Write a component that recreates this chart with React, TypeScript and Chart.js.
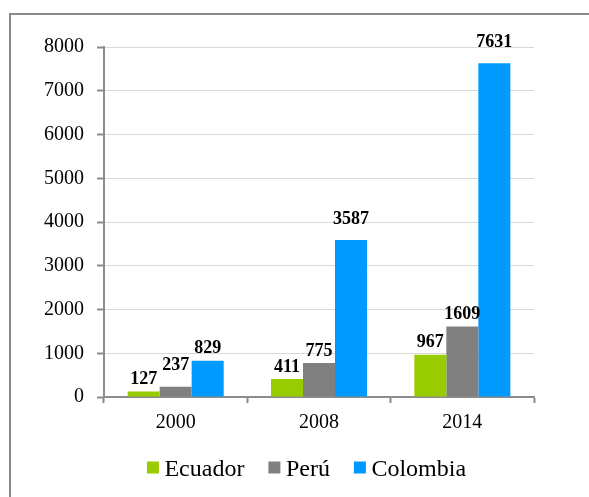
import { useEffect, useRef } from "react";
import { Chart, registerables } from "chart.js";

Chart.register(...registerables);

// Data
const years = ["2000", "2008", "2014"];
const ecuador = [127, 411, 967];
const peru = [237, 775, 1609];
const colombia = [829, 3587, 7631];
const seriesNames = ["Ecuador", "Perú", "Colombia"];
const seriesColors = ["#99CC00", "#808080", "#0099FF"];
const yMax = 8000;
const yStep = 1000;

// Extra lift (px) for a few value labels that sit higher above their bars
const labelLift = [
  [0, 0, 0],
  [9.5, 0, 0],
  [0, 8.5, 9],
];

const SERIF = "'Liberation Serif', 'Times New Roman', serif";
const AXIS_GRAY = "#8c8c8c";

const framePlugin = {
  id: "frame",
  beforeDraw(chart: any) {
    const { ctx, width, height } = chart;
    ctx.save();
    ctx.strokeStyle = "#8a8a8a";
    ctx.lineWidth = 2;
    ctx.beginPath();
    ctx.moveTo(10, height);
    ctx.lineTo(10, 14);
    ctx.lineTo(width, 14);
    ctx.stroke();
    ctx.restore();
  },
};

const valueLabelPlugin = {
  id: "valueLabels",
  afterDatasetsDraw(chart: any) {
    const { ctx } = chart;
    ctx.save();
    ctx.font = `bold 18px ${SERIF}`;
    ctx.fillStyle = "#000";
    ctx.textAlign = "center";
    ctx.textBaseline = "alphabetic";
    chart.data.datasets.forEach((ds: any, di: number) => {
      const meta = chart.getDatasetMeta(di);
      meta.data.forEach((el: any, i: number) => {
        const lift = (labelLift[di] && labelLift[di][i]) || 0;
        ctx.fillText(String(ds.data[i]), el.x, el.y - 7.5 - lift);
      });
    });
    ctx.restore();
  },
};

const legendPlugin = {
  id: "bottomLegend",
  afterDraw(chart: any) {
    const { ctx } = chart;
    const box = 12;
    const boxGap = 5.5;
    const itemGap = 24;
    const centerX = 306.5;
    const boxTop = 461.5;
    const baseline = 475.5;
    ctx.save();
    ctx.font = `24px ${SERIF}`;
    ctx.textBaseline = "alphabetic";
    ctx.textAlign = "left";
    const widths = seriesNames.map((n) => ctx.measureText(n).width);
    const total =
      widths.reduce((a, w) => a + w + box + boxGap, 0) + itemGap * (seriesNames.length - 1);
    let x = centerX - total / 2;
    seriesNames.forEach((name, i) => {
      ctx.fillStyle = seriesColors[i];
      ctx.fillRect(x, boxTop, box, box);
      x += box + boxGap;
      ctx.fillStyle = "#000";
      ctx.fillText(name, x, baseline);
      x += widths[i] + itemGap;
    });
    ctx.restore();
  },
};

export default function App() {
  const canvasRef = useRef<HTMLCanvasElement | null>(null);

  useEffect(() => {
    const canvas = canvasRef.current;
    if (!canvas) return;
    const series = [ecuador, peru, colombia];
    const chart = new Chart(canvas, {
      type: "bar",
      data: {
        labels: years,
        datasets: series.map((values, i) => ({
          label: seriesNames[i],
          data: values,
          backgroundColor: seriesColors[i],
          borderWidth: 0,
          categoryPercentage: 0.67,
          barPercentage: 1,
        })),
      },
      options: {
        responsive: false,
        animation: false,
        devicePixelRatio: 1,
        layout: { padding: { left: 0, top: 47, right: 55, bottom: 62 } },
        plugins: {
          legend: { display: false },
          tooltip: { enabled: false },
        },
        scales: {
          x: {
            grid: {
              offset: true,
              drawOnChartArea: false,
              tickLength: 6,
              tickColor: AXIS_GRAY,
              tickWidth: 2,
            },
            border: { color: AXIS_GRAY, width: 2 },
            ticks: {
              color: "#000",
              padding: 8,
              font: { family: SERIF, size: 20 },
            },
            afterFit: (scale: any) => {
              scale.height = 38;
            },
          },
          y: {
            min: 0,
            max: yMax,
            ticks: {
              stepSize: yStep,
              color: "#000",
              padding: 13,
              font: { family: SERIF, size: 20 },
              callback: (v: any) => String(v),
            },
            grid: {
              color: "#D9D9D9",
              lineWidth: 1,
              tickLength: 7,
              tickColor: AXIS_GRAY,
              tickWidth: 2,
            },
            border: { color: AXIS_GRAY, width: 2 },
            afterFit: (scale: any) => {
              scale.width = 104;
            },
          },
        },
      },
      plugins: [framePlugin, valueLabelPlugin, legendPlugin],
    });
    return () => chart.destroy();
  }, []);

  return (
    <div style={{ position: "absolute", left: 0, top: 0, width: 589, height: 497, background: "#fff" }}>
      <canvas ref={canvasRef} width={589} height={497} style={{ display: "block" }} />
    </div>
  );
}
